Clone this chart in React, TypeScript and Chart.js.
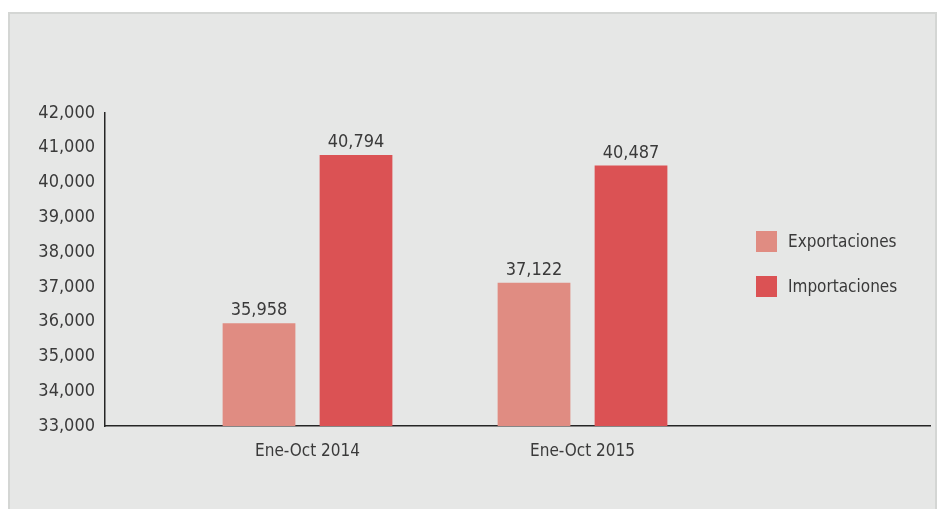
import React, { useEffect, useRef } from "react";
import { Chart, registerables } from "chart.js";

Chart.register(...registerables);

// ---- data ----
const categories = ["Ene-Oct 2014", "Ene-Oct 2015"];
const seriesNames = ["Exportaciones", "Importaciones"];
const exportaciones = [35958, 37122];
const importaciones = [40794, 40487];
const yMin = 33000;
const yMax = 42000;
const yStep = 1000;

// ---- style ----
const seriesColors = ["#e08c82", "#db5254"];
const FONT = "'DejaVu Sans Condensed', 'Liberation Sans Narrow', sans-serif";
const TEXT = "#3a3a3a";
const AXIS = "#262626";

const valueLabels = {
  id: "valueLabels",
  afterDatasetsDraw(chart: any) {
    const ctx = chart.ctx;
    ctx.save();
    ctx.font = `18px ${FONT}`;
    ctx.fillStyle = TEXT;
    ctx.textAlign = "center";
    ctx.textBaseline = "alphabetic";
    chart.data.datasets.forEach((ds: any, di: number) => {
      chart.getDatasetMeta(di).data.forEach((el: any, i: number) => {
        const v = ds.data[i].y as number;
        ctx.fillText(v.toLocaleString("en-US"), el.x, el.y - 8);
      });
    });
    ctx.restore();
  },
};

export default function App() {
  const ref = useRef<HTMLCanvasElement | null>(null);

  useEffect(() => {
    if (!ref.current) return;
    const seriesValues = [exportaciones, importaciones];
    const chart = new Chart(ref.current, {
      type: "bar",
      data: {
        datasets: seriesNames.map((name, si) => ({
          label: name,
          data: seriesValues[si].map((v, i) => ({ x: i + 1, y: v })),
          backgroundColor: seriesColors[si],
          borderWidth: 0,
          categoryPercentage: 0.7055,
          barPercentage: 0.75,
        })),
      },
      options: {
        animation: false,
        responsive: false,
        locale: "en-US",
        layout: { padding: { left: 0, right: 8, top: 113, bottom: 0 } },
        plugins: { legend: { display: false }, tooltip: { enabled: false } },
        scales: {
          x: {
            type: "linear",
            offset: false,
            min: 0.2636,
            max: 3.2636,
            grid: { display: false, drawTicks: false, offset: false },
            border: { display: true, color: AXIS, width: 1.5 },
            afterBuildTicks: (s: any) => {
              s.ticks = categories.map((_, i) => ({ value: i + 1 }));
            },
            ticks: {
              autoSkip: false,
              maxRotation: 0,
              padding: 15,
              color: TEXT,
              font: { family: FONT, size: 17 },
              callback: (v: any) => categories[Math.round(Number(v)) - 1] ?? "",
            },
            afterFit: (s: any) => {
              s.height = 83;
            },
          },
          y: {
            min: yMin,
            max: yMax,
            grid: { display: false, drawTicks: false },
            border: { display: true, color: AXIS, width: 1.5 },
            ticks: {
              stepSize: yStep,
              padding: 10,
              color: TEXT,
              font: { family: FONT, size: 18 },
            },
            afterFit: (s: any) => {
              s.width = 105;
            },
          },
        },
      },
      plugins: [valueLabels],
    } as any);
    return () => chart.destroy();
  }, []);

  return (
    <div style={{ position: "fixed", left: 0, top: 0, width: 938, height: 509, overflow: "hidden", background: "#ffffff" }}>
      <div
        style={{
          position: "absolute",
          left: 8,
          top: 12,
          width: 929,
          height: 510,
          boxSizing: "border-box",
          border: "2px solid #d4d6d4",
          background: "#e6e7e6",
        }}
      />
      <canvas ref={ref} width={938} height={509} style={{ position: "absolute", left: 0, top: 0, width: 938, height: 509 }} />
      <div style={{ position: "absolute", left: 756, top: 231, fontFamily: FONT, fontSize: 17, color: TEXT }}>
        {seriesNames.map((name, i) => (
          <div key={name} style={{ display: "flex", alignItems: "center", height: 21, marginBottom: i === 0 ? 24 : 0 }}>
            <div style={{ width: 21, height: 21, background: seriesColors[i], marginRight: 11 }} />
            <span style={{ lineHeight: "21px" }}>{name}</span>
          </div>
        ))}
      </div>
    </div>
  );
}
